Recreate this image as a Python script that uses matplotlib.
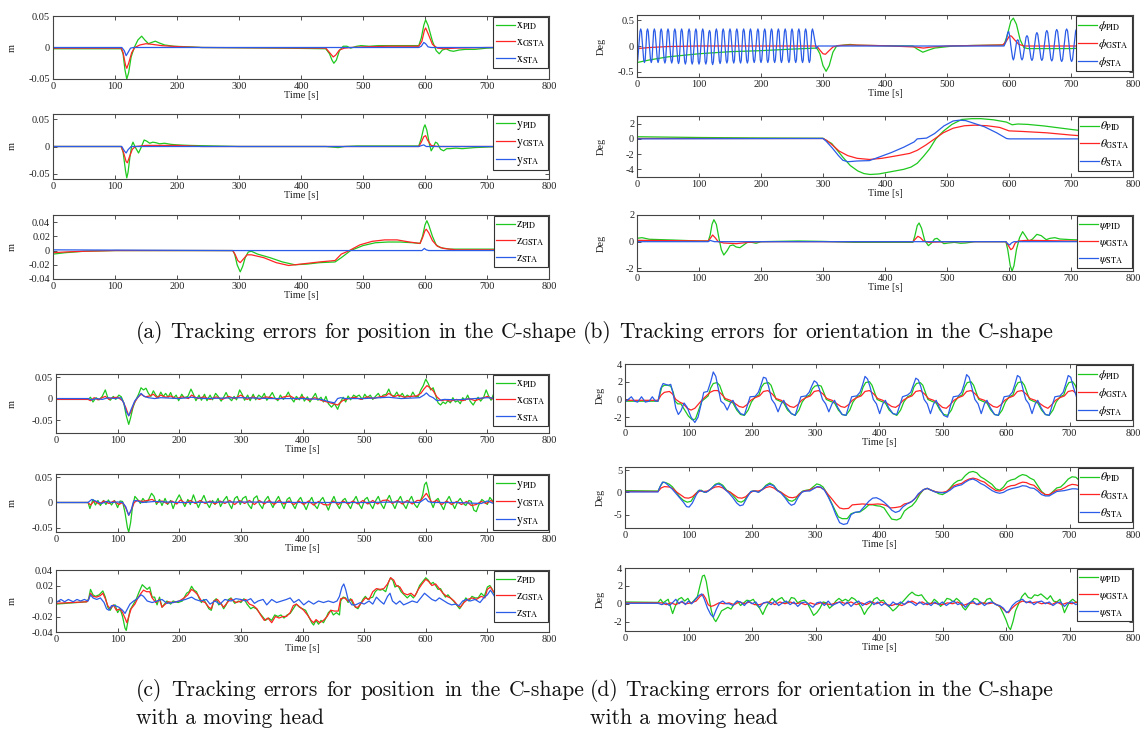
import numpy as np
import matplotlib
matplotlib.use("Agg")
import matplotlib.pyplot as plt

plt.rcParams["font.family"] = ["Liberation Serif", "DejaVu Serif"]
plt.rcParams["mathtext.fontset"] = "stix"
plt.rcParams["axes.unicode_minus"] = False

# ---------------------------------------------------------------------------
# (a) position errors, C-shape  -- (time [s], error [m])
# ---------------------------------------------------------------------------
a_x_pid = [(0,-0.002),(110,-0.002),(113,-0.01),(116,-0.035),(119,-0.05),(122,-0.04),(126,-0.015),(131,0),(137,0.012),(143,0.018),(148,0.012),(154,0.006),(159,0.008),(165,0.01),(172,0.007),(180,0.004),(195,0.002),(220,0.001),(240,0),(370,-0.001),(440,-0.002),(446,-0.01),(450,-0.02),(453,-0.025),(457,-0.02),(462,-0.005),(468,0.002),(474,0.002),(480,-0.001),(490,0.002),(497,0.003),(510,0.002),(525,0.003),(560,0.003),(590,0.003),(594,0.015),(598,0.035),(601,0.044),(605,0.035),(612,0.01),(618,-0.005),(623,-0.01),(628,-0.004),(634,-0.002),(640,-0.005),(646,-0.006),(655,-0.004),(665,-0.003),(680,-0.003),(700,-0.001),(720,0),(800,0)]
a_x_gsta = [(0,-0.001),(110,-0.001),(113,-0.008),(117,-0.028),(119,-0.033),(122,-0.025),(127,-0.008),(132,0),(140,0.004),(150,0.006),(160,0.005),(175,0.003),(190,0.002),(210,0.001),(240,0),(440,-0.001),(446,-0.008),(452,-0.015),(456,-0.012),(462,-0.004),(470,-0.001),(480,0),(500,0.001),(540,0.002),(590,0.002),(595,0.01),(599,0.027),(601,0.031),(605,0.022),(612,0.005),(620,-0.001),(630,-0.002),(650,-0.001),(700,0),(800,0)]
a_x_sta = [(0,0),(111,0),(115,-0.005),(118,-0.013),(121,-0.008),(125,-0.001),(130,0),(590,0),(594,0.002),(598,0.008),(601,0.006),(605,0.001),(610,0),(800,0)]

a_y_pid = [(0,0),(110,0),(113,-0.01),(117,-0.045),(119,-0.058),(121,-0.048),(124,-0.02),(127,0.002),(129,0.008),(133,-0.002),(138,-0.012),(142,-0.002),(147,0.012),(151,0.01),(156,0.006),(161,0.008),(166,0.007),(172,0.005),(180,0.006),(190,0.004),(200,0.003),(220,0.002),(260,0.001),(300,0),(440,0),(460,-0.002),(470,0),(490,0.001),(540,0.001),(590,0.001),(594,0.015),(598,0.035),(600,0.04),(603,0.03),(607,0.005),(610,-0.008),(613,-0.002),(617,0.008),(620,0.006),(625,-0.005),(630,-0.008),(635,-0.004),(640,-0.004),(650,-0.003),(660,-0.004),(680,-0.002),(700,-0.001),(720,0),(800,0)]
a_y_gsta = [(0,0),(110,0),(114,-0.012),(118,-0.028),(120,-0.03),(123,-0.02),(128,-0.005),(133,0),(150,0.002),(200,0.002),(240,0),(590,0),(594,0.008),(598,0.018),(601,0.02),(604,0.012),(610,0.002),(620,0),(800,0)]
a_y_sta = [(0,0),(111,0),(115,-0.008),(118,-0.012),(121,-0.006),(126,0),(590,0),(595,0.002),(598,0.003),(602,0),(800,0)]

a_z_pid = [(0,-0.005),(20,-0.003),(50,-0.001),(100,0),(290,0),(293,-0.005),(297,-0.02),(302,-0.03),(306,-0.022),(310,-0.01),(315,-0.002),(320,-0.001),(330,-0.005),(350,-0.01),(370,-0.016),(390,-0.02),(410,-0.019),(430,-0.017),(455,-0.016),(465,-0.01),(480,0),(500,0.007),(520,0.011),(540,0.012),(560,0.012),(580,0.011),(592,0.01),(596,0.02),(600,0.036),(603,0.042),(606,0.036),(612,0.02),(618,0.008),(625,0.004),(640,0.002),(680,0.002),(720,0.002),(800,0.002)]
a_z_gsta = [(0,-0.003),(20,-0.002),(50,-0.001),(100,0),(290,0),(294,-0.006),(298,-0.014),(302,-0.017),(307,-0.012),(313,-0.006),(320,-0.006),(340,-0.01),(360,-0.017),(380,-0.021),(400,-0.019),(430,-0.016),(455,-0.014),(465,-0.005),(478,0),(495,0.008),(515,0.013),(535,0.015),(555,0.015),(575,0.012),(592,0.01),(596,0.018),(600,0.028),(602,0.03),(606,0.025),(612,0.014),(620,0.006),(630,0.003),(650,0.001),(720,0.001),(800,0.001)]
a_z_sta = [(0,0.001),(290,0),(595,0),(599,0.003),(602,0.001),(606,0),(800,0)]

# ---------------------------------------------------------------------------
# (b) orientation errors, C-shape  -- (time [s], error [deg])
# ---------------------------------------------------------------------------
b_phi_pid = [(0,-0.32),(20,-0.27),(50,-0.21),(100,-0.15),(150,-0.11),(200,-0.09),(250,-0.06),(290,-0.04),(295,-0.15),(300,-0.38),(305,-0.49),(310,-0.38),(316,-0.12),(322,0),(335,0.02),(344,0.03),(355,0.015),(400,0.005),(445,0),(452,-0.06),(461,-0.12),(470,-0.08),(480,-0.04),(495,-0.02),(510,0),(540,0.01),(592,0.02),(597,0.2),(603,0.48),(607,0.54),(612,0.42),(618,0.12),(624,-0.03),(630,-0.05),(700,-0.05),(720,-0.04),(800,0)]
b_phi_gsta = [(0,-0.05),(20,-0.03),(50,-0.01),(100,0),(290,0),(295,-0.08),(300,-0.15),(304,-0.16),(309,-0.1),(316,-0.02),(325,0.01),(345,0.02),(400,0.005),(450,-0.02),(462,-0.04),(475,-0.02),(500,0),(590,0.02),(596,0.1),(601,0.2),(604,0.19),(609,0.12),(616,0.03),(625,0),(800,0)]
b_phi_sta = [
    (0,-0.3),(1.2,-0.27),
    (4.8,0.28),(6,0.33),(7.2,0.28),(10.8,-0.27),(12,-0.32),(13.2,-0.27),
    (15.8,0.28),(17,0.33),(18.2,0.28),(21.8,-0.27),(23,-0.32),(24.2,-0.27),
    (26.8,0.28),(28,0.33),(29.2,0.28),(32.8,-0.27),(34,-0.32),(35.2,-0.27),
    (37.8,0.28),(39,0.33),(40.2,0.28),(43.8,-0.28),(45,-0.33),(46.2,-0.28),
    (48.8,0.28),(50,0.33),(51.2,0.28),(54.8,-0.28),(56,-0.33),(57.2,-0.28),
    (59.8,0.28),(61,0.33),(62.2,0.28),(65.8,-0.29),(67,-0.34),(68.2,-0.29),
    (70.8,0.28),(72,0.33),(73.2,0.28),(76.8,-0.3),(78,-0.35),(79.2,-0.3),
    (82.8,0.28),(84,0.33),(85.2,0.28),(87.8,-0.3),(89,-0.35),(90.2,-0.3),
    (93.8,0.28),(95,0.33),(96.2,0.28),(98.8,-0.3),(100,-0.35),(101.2,-0.3),
    (104.8,0.28),(106,0.33),(107.2,0.28),(109.8,-0.3),(111,-0.35),(112.2,-0.3),
    (115.8,0.26),(117,0.3),(118.2,0.26),(120.8,-0.31),(122,-0.36),(123.2,-0.31),
    (126.8,0.28),(128,0.33),(129.2,0.28),(132.8,-0.29),(134,-0.34),(135.2,-0.29),
    (137.8,0.28),(139,0.33),(140.2,0.28),(143.8,-0.28),(145,-0.33),(146.2,-0.28),
    (148.8,0.28),(150,0.33),(151.2,0.28),(154.8,-0.28),(156,-0.33),(157.2,-0.28),
    (159.8,0.28),(161,0.33),(162.2,0.28),(165.8,-0.28),(167,-0.33),(168.2,-0.28),
    (170.8,0.28),(172,0.33),(173.2,0.28),(176.8,-0.28),(178,-0.33),(179.2,-0.28),
    (181.8,0.28),(183,0.33),(184.2,0.28),(187.8,-0.27),(189,-0.32),(190.2,-0.27),
    (193.8,0.28),(195,0.33),(196.2,0.28),(198.8,-0.27),(200,-0.32),(201.2,-0.27),
    (204.8,0.28),(206,0.33),(207.2,0.28),(209.8,-0.27),(211,-0.32),(212.2,-0.27),
    (215.8,0.28),(217,0.33),(218.2,0.28),(220.8,-0.27),(222,-0.32),(223.2,-0.27),
    (226.8,0.28),(228,0.33),(229.2,0.28),(231.8,-0.27),(233,-0.32),(234.2,-0.27),
    (237.8,0.28),(239,0.33),(240.2,0.28),(243.8,-0.27),(245,-0.32),(246.2,-0.27),
    (248.8,0.28),(250,0.33),(251.2,0.28),(254.8,-0.27),(256,-0.32),(257.2,-0.27),
    (259.8,0.28),(261,0.33),(262.2,0.28),(265.8,-0.27),(267,-0.32),(268.2,-0.27),
    (270.8,0.28),(272,0.33),(273.2,0.28),(276.8,-0.27),(278,-0.32),(279.2,-0.27),
    (281.8,0.28),(283,0.33),(284.2,0.28),(289,-0.05),(292,0),
    (592,0),(595,0.08),(598,0.26),(599.5,0.28),(601,0.2),(603,0.0),
    (605.8,-0.23),(607,-0.27),(608.2,-0.23),(612.5,0.1),(614,0.12),(615.5,0.1),
    (619.5,-0.23),(621,-0.27),(622.5,-0.23),(627.5,0.17),(629,0.2),(630.5,0.17),
    (635.5,-0.24),(637,-0.28),(638.5,-0.24),(643.5,0.22),(645,0.26),(646.5,0.22),
    (651.5,-0.24),(653,-0.28),(654.5,-0.24),(659.5,0.26),(661,0.3),(662.5,0.26),
    (667.5,-0.25),(669,-0.29),(670.5,-0.25),(675.5,0.28),(677,0.32),(678.5,0.28),
    (683.5,-0.26),(685,-0.3),(686.5,-0.26),(691.5,0.29),(693,0.33),(694.5,0.29),
    (699.5,-0.26),(701,-0.3),(702.5,-0.26),(707.5,0.29),(709,0.33),(710.5,0.29),
    (715.5,-0.26),(717,-0.3),(718.5,-0.26),(725,0.33),(733,-0.3),(741,0.33),
    (749,-0.3),(757,0.33),(765,-0.3),(773,0.33),(781,-0.3),(789,0.33),(797,-0.3),(800,-0.2)]

b_theta_pid = [(0,0.28),(100,0.18),(200,0.12),(300,0.08),(305,-0.2),(314,-0.6),(322,-1.4),(332,-2.4),(344,-3.5),(356,-4.2),(366,-4.55),(376,-4.67),(390,-4.6),(410,-4.3),(430,-4.0),(442,-3.7),(452,-3.2),(462,-2.3),(472,-1.3),(482,0),(494,1.0),(508,1.9),(524,2.55),(540,2.65),(555,2.65),(575,2.5),(596,2.2),(605,1.85),(614,1.95),(630,1.9),(656,1.7),(680,1.45),(704,1.2),(720,1.05),(760,0.9),(800,0.7)]
b_theta_gsta = [(0,0.05),(300,0.05),(306,-0.2),(315,-0.8),(326,-1.6),(340,-2.2),(355,-2.55),(375,-2.7),(395,-2.55),(420,-2.2),(440,-1.9),(452,-1.5),(466,-0.8),(480,0),(494,0.8),(510,1.4),(528,1.72),(545,1.8),(565,1.72),(585,1.5),(600,1.05),(620,0.98),(660,0.8),(700,0.5),(720,0.38),(800,0.1)]
b_theta_sta = [(0,0),(300,0.05),(305,-0.3),(315,-1.2),(325,-2.2),(332,-2.8),(340,-3.0),(355,-2.9),(375,-2.85),(390,-2.4),(410,-1.8),(430,-1.1),(447,-0.4),(452,0),(467,0.1),(480,0.7),(495,1.7),(510,2.35),(520,2.45),(530,2.4),(560,1.6),(580,0.8),(596,0.05),(600,0),(800,0)]

b_psi_pid = [(0,0.25),(8,0.3),(20,0.18),(60,0.12),(100,0.05),(115,0.05),(118,0.5),(121,1.3),(124,1.65),(128,1.3),(132,0.3),(136,-0.6),(140,-1.0),(145,-0.7),(150,-0.3),(155,-0.25),(160,-0.4),(166,-0.45),(172,-0.25),(178,-0.05),(185,-0.05),(192,-0.12),(200,0),(260,0.05),(300,0.02),(350,-0.05),(445,-0.05),(448,0.4),(452,1.2),(455,1.4),(459,1.0),(464,0.1),(470,-0.3),(475,-0.1),(480,0.2),(484,0.25),(489,0.05),(495,-0.15),(502,-0.1),(512,-0.05),(522,-0.12),(530,-0.1),(545,0),(595,0),(598,-0.6),(602,-1.8),(605,-2.2),(608,-1.8),(612,-0.6),(617,0.3),(622,0.75),(627,0.4),(632,0.02),(638,0.2),(645,0.55),(652,0.45),(660,0.15),(666,0.25),(674,0.3),(682,0.2),(700,0.15),(720,0.12),(800,0.08)]
b_psi_gsta = [(0,0.1),(115,0.05),(119,0.3),(122,0.5),(126,0.3),(131,0),(140,-0.1),(160,-0.15),(180,-0.05),(200,0),(445,0),(449,0.2),(453,0.4),(457,0.3),(462,0.05),(470,-0.05),(500,0),(595,0),(599,-0.3),(603,-0.6),(606,-0.5),(610,-0.1),(615,0.05),(630,0.1),(700,0.05),(800,0)]
b_psi_sta = [(0,0),(115,0),(118,0.1),(121,0.05),(125,0),(595,0),(598,-0.15),(601,-0.25),(604,-0.1),(608,0),(800,0)]

# ---------------------------------------------------------------------------
# (c) position errors, C-shape with a moving head
# ---------------------------------------------------------------------------
c_x_pid = [(0,-0.002),(52,-0.002),(56,0.003),(60,-0.008),(65,0.002),(70,-0.003),(75,0.005),(80,0.02),(84,0.002),(88,-0.004),(93,0.005),(97,-0.002),(102,0.008),(106,0.004),(110,-0.01),(114,-0.04),(118,-0.06),(121,-0.045),(125,-0.02),(129,-0.005),(134,0.01),(138,0.025),(142,0.02),(146,0.024),(150,0.012),(154,0.005),(158,0.018),(162,0.008),(166,0.002),(170,0.015),(174,0.005),(178,0.012),(182,0.003),(186,0.014),(190,0),(195,0.008),(199,-0.005),(204,0.01),(208,0.002),(214,0.005),(219,0.022),(223,0.01),(227,-0.005),(232,0.008),(236,-0.004),(241,0.01),(245,-0.005),(250,0.008),(254,-0.003),(259,0.012),(263,0.005),(268,-0.006),(272,0.003),(276,0.014),(280,0.002),(285,-0.005),(289,0.005),(293,-0.003),(298,0.02),(302,0.01),(306,-0.004),(311,0.008),(315,-0.005),(320,0.01),(324,-0.003),(329,0.008),(334,0.002),(338,0.012),(342,-0.004),(347,0.005),(351,0.014),(355,0.002),(360,-0.005),(364,0.008),(369,-0.002),(373,0.005),(377,0.015),(381,0.002),(386,-0.008),(390,0.005),(395,-0.003),(399,0.01),(403,-0.006),(408,0.004),(412,-0.008),(417,0.003),(421,0.012),(425,-0.004),(430,0.003),(434,-0.008),(438,0.005),(442,-0.012),(447,-0.02),(452,-0.012),(457,-0.025),(461,-0.01),(466,0.003),(470,-0.008),(474,0.006),(478,-0.003),(483,0.008),(487,0.004),(492,0.008),(497,-0.002),(501,0.01),(505,0.002),(510,0.008),(514,-0.002),(519,0.006),(523,0.012),(527,0.002),(531,0.008),(536,0.01),(540,0.022),(544,0.008),(549,0.006),(553,0.015),(557,0.004),(562,0.012),(566,0.002),(570,0.008),(575,0.003),(579,0.015),(583,0.005),(588,0.005),(592,0.02),(596,0.03),(600,0.045),(604,0.035),(608,0.02),(612,0.025),(616,0.008),(620,-0.01),(624,-0.015),(628,-0.008),(632,-0.012),(636,-0.005),(640,-0.01),(644,0.002),(648,-0.008),(652,-0.005),(656,-0.012),(660,0.002),(664,-0.004),(668,0.008),(672,-0.006),(677,-0.015),(681,-0.005),(685,0.003),(689,-0.006),(694,0.003),(698,0.02),(702,0.006),(706,-0.004),(710,0.01),(715,-0.003),(720,0.005),(724,0),(800,0)]
c_x_gsta = [(0,-0.002),(52,-0.002),(56,-0.005),(62,0.002),(68,-0.003),(75,0.002),(80,0.005),(86,-0.002),(92,0.002),(100,0.003),(108,-0.005),(113,-0.02),(118,-0.04),(122,-0.03),(127,-0.01),(133,0.003),(138,0.01),(145,0.004),(152,0.006),(158,0.01),(164,0.002),(170,0.008),(178,0.003),(186,0.006),(195,0),(205,0.004),(215,0),(220,0.008),(230,0),(240,0.004),(250,-0.002),(260,0.004),(270,-0.002),(280,0.005),(290,0),(300,0.008),(310,-0.002),(320,0.004),(330,-0.002),(340,0.004),(350,0.002),(360,-0.002),(370,0.004),(380,0.006),(390,-0.002),(400,0.004),(410,-0.004),(420,0.002),(430,-0.004),(440,-0.008),(450,-0.012),(457,-0.015),(465,-0.005),(475,0),(485,0.003),(495,-0.002),(505,0.004),(515,0),(525,0.004),(535,0.006),(540,0.012),(548,0.004),(556,0.008),(565,0.003),(575,0.005),(585,0.006),(592,0.012),(597,0.022),(602,0.03),(606,0.026),(612,0.018),(618,0.004),(625,-0.005),(632,-0.003),(640,-0.006),(650,-0.002),(660,-0.005),(670,0),(680,-0.005),(690,0),(700,0.005),(710,-0.002),(720,0.002),(800,0)]
c_x_sta = [(0,0),(52,0),(58,-0.003),(65,0),(75,-0.002),(85,0.002),(95,0),(105,0.002),(110,-0.01),(114,-0.03),(118,-0.04),(122,-0.025),(128,-0.005),(134,0.005),(138,0.012),(143,0.005),(150,0.002),(160,0),(170,0.002),(200,0),(220,0.003),(240,0),(300,0.002),(350,0),(400,0),(430,-0.002),(445,-0.008),(452,-0.01),(457,0),(462,0.002),(470,0),(500,0),(540,0.003),(560,0),(590,0.002),(597,0.008),(601,0.013),(606,0.006),(612,0.002),(618,-0.005),(630,-0.002),(650,-0.003),(680,0),(700,0.002),(720,0),(800,0)]

c_y_pid = [(0,0),(52,0),(55,-0.012),(60,0.006),(64,-0.005),(68,0.004),(72,-0.006),(77,0.004),(81,-0.004),(85,0.005),(90,-0.005),(95,0.004),(100,-0.01),(104,0.003),(108,0.002),(112,-0.02),(116,-0.05),(118,-0.058),(121,-0.04),(124,-0.01),(128,0.012),(133,0.005),(137,-0.002),(141,0.008),(146,0),(150,0.005),(155,0.018),(159,0.012),(163,-0.004),(168,0.006),(172,-0.006),(177,0.008),(181,-0.004),(186,0.004),(190,-0.012),(195,0.004),(200,0.015),(205,0.002),(209,-0.008),(214,0.006),(218,-0.004),(223,0.015),(227,0.002),(231,-0.01),(236,0.004),(240,0.014),(245,-0.002),(249,-0.01),(254,0.004),(258,-0.004),(263,0.008),(267,-0.008),(272,0.004),(277,0.012),(281,-0.003),(285,-0.012),(290,0.008),(294,0.012),(299,-0.004),(303,0.008),(308,0.012),(312,-0.004),(317,-0.012),(321,0.008),(326,0.013),(330,-0.003),(335,-0.012),(339,0.004),(344,0.012),(348,0),(352,-0.01),(357,0.004),(361,0.012),(366,-0.002),(370,-0.012),(375,0.006),(379,0.01),(384,-0.004),(388,-0.012),(393,0.004),(397,0.01),(402,-0.004),(406,-0.014),(411,0.002),(415,0.01),(420,-0.006),(424,-0.012),(429,0.004),(433,0.01),(438,-0.004),(442,-0.015),(447,0.002),(451,0.012),(456,-0.004),(460,-0.012),(465,0.004),(469,0.008),(474,-0.004),(478,-0.012),(483,0.004),(487,0.012),(492,-0.004),(496,-0.012),(501,0.006),(505,0.01),(510,-0.004),(514,-0.012),(519,0.004),(523,0.012),(528,-0.004),(532,-0.012),(537,0.005),(541,0.014),(546,-0.002),(550,-0.012),(555,0.004),(559,0.012),(564,-0.004),(568,-0.012),(573,0.004),(577,0.012),(582,-0.004),(586,-0.01),(591,0.002),(595,0.015),(598,0.035),(601,0.04),(604,0.025),(608,0.002),(612,-0.01),(616,0.004),(620,0.008),(625,-0.005),(629,-0.014),(634,0.004),(638,0.012),(643,-0.002),(647,-0.012),(652,0.002),(656,0.008),(661,-0.002),(665,-0.006),(670,0.004),(674,0.002),(678,-0.015),(682,-0.018),(686,-0.005),(691,0.006),(695,0.002),(700,-0.004),(704,0.01),(708,0.004),(713,-0.008),(717,0.006),(722,0.012),(725,0),(800,0)]
c_y_gsta = [(0,0),(52,0),(56,-0.005),(62,0.003),(70,-0.003),(78,0.003),(86,-0.002),(94,0.003),(102,-0.004),(108,0),(113,-0.01),(118,-0.025),(122,-0.015),(127,0),(132,0.004),(140,0.002),(148,0.004),(156,0.006),(164,0),(172,0.003),(180,-0.002),(188,0.003),(196,-0.003),(202,0.005),(210,-0.002),(218,0.004),(226,-0.002),(234,0.004),(242,-0.002),(250,0.003),(258,-0.003),(266,0.003),(274,-0.002),(282,0.004),(290,-0.004),(298,0.004),(306,-0.002),(314,0.004),(322,-0.004),(330,0.004),(338,-0.003),(346,0.004),(354,-0.004),(362,0.004),(370,-0.003),(378,0.003),(386,-0.004),(394,0.003),(402,-0.004),(410,0.003),(418,-0.005),(426,0.002),(434,-0.004),(442,-0.005),(450,0.003),(458,-0.004),(466,0.003),(474,-0.003),(482,0.003),(490,-0.003),(498,0.004),(506,-0.003),(514,0.004),(522,-0.003),(530,0.004),(538,0.005),(546,-0.002),(554,0.004),(562,-0.003),(570,0.004),(578,-0.003),(586,0.004),(592,0.004),(597,0.012),(601,0.018),(605,0.01),(610,0),(618,0.004),(626,-0.004),(634,0.003),(642,-0.004),(650,0.002),(658,-0.004),(666,0.002),(674,-0.006),(682,-0.004),(690,0.002),(698,-0.002),(706,0.004),(714,-0.004),(722,0.006),(800,0)]
c_y_sta = [(0,0),(52,0),(58,0.006),(66,0.002),(74,-0.002),(82,0.002),(90,0),(100,0.001),(108,0),(113,-0.008),(118,-0.025),(122,-0.015),(126,0.003),(130,0.004),(140,0),(160,0.002),(200,0),(300,0.001),(400,0),(500,0),(560,0.001),(590,0),(596,0.005),(600,0.008),(604,0.002),(610,0),(650,0),(690,-0.002),(700,0.003),(710,-0.002),(720,0.001),(800,0)]

c_z_pid = [(0,-0.004),(50,-0.001),(53,0.003),(56,0.015),(60,0.008),(64,0.006),(70,0.008),(76,0.013),(80,0.005),(84,-0.008),(88,-0.012),(92,-0.006),(96,-0.005),(100,-0.015),(104,-0.01),(108,-0.02),(112,-0.035),(114,-0.038),(117,-0.025),(120,-0.012),(125,-0.005),(130,0.002),(135,0.012),(140,0.021),(144,0.018),(148,0.015),(152,0.018),(156,0.005),(160,0.005),(164,-0.005),(168,0.005),(172,-0.008),(176,-0.004),(180,0),(186,-0.004),(190,0),(198,-0.002),(205,0),(212,0.01),(216,0.012),(220,0.019),(224,0.014),(228,0.012),(232,0.004),(236,-0.002),(240,0.002),(244,-0.004),(248,-0.01),(252,-0.012),(256,0),(260,0.003),(264,-0.005),(268,-0.003),(272,-0.01),(276,-0.005),(280,0.002),(284,0.004),(290,-0.003),(296,0),(300,-0.002),(305,0.003),(310,-0.004),(316,-0.01),(320,-0.008),(325,-0.01),(330,-0.015),(335,-0.02),(340,-0.025),(345,-0.022),(350,-0.025),(355,-0.018),(360,-0.02),(365,-0.018),(370,-0.022),(375,-0.018),(380,-0.016),(385,-0.01),(390,-0.004),(395,-0.008),(400,-0.01),(405,-0.012),(410,-0.02),(415,-0.028),(418,-0.031),(422,-0.025),(426,-0.03),(430,-0.025),(434,-0.028),(438,-0.022),(442,-0.015),(446,-0.012),(450,-0.018),(455,-0.015),(460,-0.018),(462,0),(466,0.005),(470,0.004),(474,-0.002),(478,0.003),(482,-0.004),(486,-0.008),(490,-0.01),(494,-0.004),(498,0.002),(502,0.006),(506,0.002),(510,0.004),(514,0.005),(518,0.012),(522,0.015),(526,0.014),(530,0.015),(535,0.012),(540,0.025),(543,0.03),(547,0.026),(550,0.018),(555,0.02),(560,0.012),(565,0.008),(570,0.004),(575,0.008),(580,0.004),(585,0.01),(590,0.02),(595,0.025),(600,0.03),(604,0.027),(608,0.022),(612,0.024),(616,0.02),(620,0.015),(624,0.016),(628,0.01),(632,0.005),(636,0.008),(640,0.004),(645,0),(650,-0.005),(655,-0.01),(660,-0.004),(665,0.004),(670,0),(675,0.006),(680,0.004),(685,0.004),(690,0.01),(695,0.006),(700,0.018),(704,0.02),(708,0.015),(712,0.008),(716,0.012),(720,0.004),(723,-0.005),(800,0)]
c_z_gsta = [(0,-0.003),(50,-0.001),(53,0.002),(56,0.01),(60,0.006),(66,0.005),(72,0.007),(76,0.01),(80,0.003),(84,-0.006),(88,-0.01),(93,-0.005),(98,-0.012),(104,-0.01),(108,-0.015),(112,-0.022),(115,-0.028),(118,-0.02),(122,-0.01),(128,-0.004),(133,0.004),(138,0.01),(142,0.014),(147,0.012),(152,0.012),(156,0.004),(162,-0.002),(168,0.002),(172,-0.008),(176,-0.005),(182,-0.001),(190,-0.002),(200,0),(208,0.004),(214,0.008),(220,0.015),(225,0.012),(230,0.008),(236,0),(242,-0.002),(248,-0.008),(252,-0.01),(256,0),(262,0.002),(268,-0.004),(272,-0.008),(278,-0.002),(284,0.003),(292,-0.002),(300,0),(308,0.002),(314,-0.004),(320,-0.006),(326,-0.01),(332,-0.018),(338,-0.025),(344,-0.022),(350,-0.028),(356,-0.02),(362,-0.022),(368,-0.02),(374,-0.02),(380,-0.015),(385,-0.006),(390,-0.004),(396,-0.008),(402,-0.012),(408,-0.018),(414,-0.025),(418,-0.028),(422,-0.024),(428,-0.028),(434,-0.025),(440,-0.02),(446,-0.012),(452,-0.013),(458,-0.013),(462,0.003),(468,0.004),(474,0),(480,0.002),(486,-0.008),(490,-0.008),(496,-0.002),(502,0.004),(508,0.002),(514,0.012),(520,0.016),(526,0.015),(532,0.016),(538,0.022),(543,0.03),(548,0.027),(552,0.02),(558,0.018),(564,0.01),(570,0.008),(576,0.01),(582,0.006),(588,0.015),(594,0.022),(600,0.028),(605,0.025),(610,0.02),(616,0.022),(622,0.016),(628,0.01),(634,0.006),(640,0.004),(646,0),(652,-0.006),(656,-0.008),(662,-0.002),(668,0.002),(675,0.004),(682,0.002),(690,0.006),(696,0.004),(700,0.015),(705,0.018),(710,0.012),(716,0.008),(720,0.002),(723,-0.004),(800,0)]
c_z_sta = [(0,-0.002),(8,0.002),(14,-0.001),(20,0.002),(28,-0.001),(34,0.002),(40,0),(46,0.002),(52,0),(56,0.008),(60,0.004),(66,0.002),(72,0.004),(78,-0.002),(82,-0.01),(86,-0.012),(90,-0.006),(96,-0.006),(102,-0.008),(108,-0.012),(112,-0.016),(116,-0.01),(120,-0.004),(126,0),(132,0.003),(138,0.008),(142,0.006),(148,0),(156,-0.002),(164,0),(172,0.002),(180,-0.003),(190,-0.002),(200,0),(210,0.002),(220,0.005),(226,0.002),(234,0),(244,0.002),(250,-0.004),(258,0),(266,-0.004),(274,0.002),(284,0),(292,0.003),(300,0.002),(308,0),(316,0.003),(322,-0.003),(328,0),(336,0.002),(342,-0.005),(350,0.002),(358,-0.002),(366,0),(374,0.002),(380,0.004),(386,-0.002),(394,0.002),(402,-0.005),(410,0),(418,-0.004),(426,0),(434,-0.002),(442,0),(450,-0.002),(456,0),(460,0.006),(464,0.018),(467,0.022),(470,0.015),(474,0.002),(480,-0.005),(486,-0.005),(494,-0.002),(500,-0.004),(508,0),(514,-0.004),(520,0.005),(526,0),(532,-0.004),(538,0.006),(542,0.01),(546,0),(552,-0.004),(558,0),(564,-0.005),(570,-0.003),(578,0),(586,-0.002),(592,0.004),(598,0.01),(604,0.006),(610,0.002),(616,0),(622,0.004),(630,0),(636,-0.003),(642,-0.005),(648,-0.004),(654,-0.006),(660,0),(666,0.002),(672,0),(680,0.002),(688,-0.002),(694,0.004),(700,0.008),(705,0.014),(710,0.008),(716,0),(722,-0.008),(725,-0.01),(800,0)]

# ---------------------------------------------------------------------------
# (d) orientation errors, C-shape with a moving head
# ---------------------------------------------------------------------------
d_phi_pid = [(0,-0.2),(52,-0.2),(55,0.6),(58,1.4),(62,1.6),(67,1.6),(72,1.5),(76,0.8),(79,-0.2),(83,-0.5),(88,-0.5),(94,-1.2),(100,-1.9),(106,-2.3),(111,-2.2),(116,-1.2),(121,-0.2),(126,0.1),(131,0.4),(135,1.3),(139,1.8),(145,1.9),(149,1.6),(153,0.8),(157,0),(163,-0.2),(170,-0.4),(176,-1.2),(182,-1.7),(188,-1.8),(194,-1.2),(199,-0.3),(205,0.3),(211,0.5),(215,1.4),(219,1.8),(226,1.9),(230,1.6),(234,0.8),(238,0),(244,-0.2),(250,-0.4),(256,-1.2),(262,-1.6),(268,-1.8),(274,-1.2),(279,-0.3),(285,0.3),(291,0.5),(295,1.2),(299,1.5),(305,1.6),(309,1.5),(313,0.8),(317,0),(323,-0.2),(330,-0.4),(336,-1.2),(342,-1.7),(348,-1.8),(354,-1.2),(359,-0.3),(365,0.3),(371,0.5),(375,1.4),(379,1.9),(385,2.0),(389,1.6),(393,0.8),(397,0),(403,-0.2),(410,-0.4),(416,-1.2),(422,-1.6),(428,-1.8),(434,-1.2),(439,-0.3),(445,0.3),(451,0.5),(455,1.4),(459,1.8),(465,1.9),(469,1.6),(473,0.8),(477,0),(483,-0.2),(490,-0.4),(496,-1.2),(502,-1.7),(508,-1.8),(514,-1.2),(519,-0.3),(525,0.3),(531,0.5),(535,1.4),(539,1.9),(545,2.0),(549,1.6),(553,0.8),(557,0),(563,-0.2),(570,-0.4),(576,-1.2),(582,-1.7),(588,-1.8),(594,-1.2),(599,-0.3),(605,0.3),(611,0.5),(615,1.4),(619,1.9),(625,2.0),(629,1.6),(633,0.8),(637,0),(643,-0.2),(650,-0.4),(656,-1.2),(662,-1.7),(668,-1.8),(674,-1.2),(679,-0.3),(685,0.3),(691,0.5),(695,1.4),(699,1.9),(705,2.0),(709,1.6),(713,0.8),(717,0.2),(722,0),(800,0)]
d_phi_gsta = [(0,-0.1),(52,-0.1),(57,0.5),(62,0.8),(70,0.9),(75,0.6),(80,0),(86,-0.3),(92,-0.5),(98,-1.0),(104,-1.2),(110,-1.0),(116,-0.5),(122,0),(128,0.4),(134,0.8),(140,1.0),(146,1.0),(152,0.6),(158,0.1),(166,-0.1),(172,-0.4),(180,-0.8),(186,-0.9),(192,-0.6),(198,-0.1),(205,0.2),(212,0.4),(218,0.9),(225,1.0),(232,0.6),(238,0.1),(246,-0.1),(252,-0.4),(260,-0.8),(266,-0.9),(272,-0.6),(278,-0.1),(285,0.2),(292,0.4),(298,0.9),(305,1.0),(312,0.6),(318,0.1),(326,-0.1),(332,-0.4),(340,-0.8),(346,-0.9),(352,-0.6),(358,-0.1),(365,0.2),(372,0.4),(378,0.9),(385,1.0),(392,0.6),(398,0.1),(406,-0.1),(412,-0.4),(420,-0.8),(426,-0.9),(432,-0.6),(438,-0.1),(445,0.2),(452,0.4),(458,0.9),(465,1.0),(472,0.6),(478,0.1),(486,-0.1),(492,-0.4),(500,-0.9),(506,-1.0),(512,-0.6),(518,-0.1),(525,0.2),(532,0.4),(538,0.9),(545,1.0),(552,0.6),(558,0.1),(566,-0.1),(572,-0.4),(580,-0.8),(586,-0.9),(592,-0.6),(598,-0.1),(605,0.2),(612,0.4),(618,0.9),(625,1.0),(632,0.6),(638,0.1),(646,-0.1),(652,-0.4),(660,-0.8),(666,-1.0),(672,-0.6),(678,-0.1),(685,0.2),(692,0.4),(698,0.9),(705,1.0),(712,0.6),(718,0.1),(722,0),(800,0)]
d_phi_sta = [(0,-0.3),(5,0),(10,0.3),(15,-0.2),(20,-0.3),(26,0.3),(32,-0.3),(38,-0.2),(43,0.3),(48,-0.2),(52,-0.2),(56,1.2),(60,1.8),(64,1.7),(68,1.6),(72,1.7),(76,0.6),(80,-1.0),(84,-1.7),(88,-1.3),(93,-0.4),(98,-0.9),(104,-2.0),(110,-2.6),(115,-2.0),(120,-0.5),(124,0.8),(130,0.9),(135,2.0),(139,3.1),(143,2.6),(147,1.2),(151,-0.2),(156,-0.5),(161,-1.2),(166,-0.4),(170,-0.1),(175,-0.9),(182,-1.6),(188,-1.75),(193,-0.6),(197,0.3),(205,0.35),(210,0.8),(214,1.6),(218,2.5),(222,2.4),(226,1.5),(231,0),(236,-0.5),(241,-1.4),(246,-0.5),(250,-0.1),(255,-0.9),(262,-1.6),(268,-1.8),(273,-0.6),(277,0.3),(285,0.4),(290,0.8),(294,1.5),(298,2.1),(302,1.9),(306,1.2),(311,0),(316,-0.5),(321,-1.4),(326,-0.5),(330,-0.1),(335,-0.9),(342,-1.7),(348,-1.8),(353,-0.6),(357,0.3),(365,0.4),(370,0.8),(374,1.6),(378,2.6),(382,2.3),(386,1.4),(391,0),(396,-0.5),(401,-1.6),(406,-0.5),(410,-0.1),(415,-0.9),(422,-1.6),(428,-1.7),(433,-0.6),(437,0.3),(445,0.5),(450,0.8),(454,1.6),(458,2.4),(462,2.2),(466,1.4),(471,0),(476,-0.5),(481,-1.6),(486,-0.5),(490,-0.1),(495,-0.9),(502,-1.8),(508,-2.0),(513,-0.6),(517,0.3),(525,0.4),(530,0.8),(534,1.7),(538,2.8),(542,2.5),(546,1.4),(551,0),(556,-0.5),(561,-1.6),(566,-0.5),(570,-0.1),(575,-0.9),(582,-1.7),(588,-1.8),(593,-0.6),(597,0.3),(605,0.4),(610,0.8),(614,1.7),(618,2.7),(622,2.5),(626,1.4),(631,0),(636,-0.5),(641,-1.6),(646,-0.5),(650,-0.1),(655,-0.9),(662,-1.7),(668,-1.8),(673,-0.6),(677,0.3),(685,0.4),(690,0.8),(694,1.7),(698,2.7),(702,2.5),(706,1.4),(711,0.3),(716,-0.3),(721,-0.2),(800,0)]

d_theta_pid = [(0,0.4),(52,0.3),(56,1.5),(60,2.3),(64,2.2),(70,1.8),(75,1.2),(80,0.2),(86,-1.0),(92,-1.8),(98,-2.2),(104,-2.0),(110,-0.6),(115,0.3),(120,0.5),(125,0),(131,0.3),(137,1.0),(142,1.8),(148,2.1),(154,1.6),(160,0.5),(166,0),(172,-1.0),(178,-2.0),(183,-2.2),(188,-1.8),(194,-0.5),(200,0.3),(206,0.3),(211,0.1),(217,0.8),(222,1.6),(228,2.1),(234,1.6),(240,0.5),(246,0),(252,-1.0),(258,-1.8),(263,-2.0),(268,-1.6),(274,-0.4),(280,0.3),(286,0.5),(291,0.6),(296,1.2),(302,1.9),(307,1.7),(312,1.2),(318,-0.2),(324,-2.0),(330,-3.8),(336,-5.5),(342,-5.9),(350,-5.9),(356,-4.8),(362,-4.5),(370,-4.4),(378,-3.6),(384,-2.8),(390,-2.8),(396,-3.0),(402,-3.1),(408,-3.5),(414,-4.8),(420,-6.0),(428,-6.2),(434,-5.8),(440,-4.2),(446,-3.5),(452,-3.0),(458,-2.0),(464,-0.5),(470,0.6),(476,0.9),(482,0.5),(488,0.2),(494,-0.3),(500,-0.5),(506,0),(512,1.0),(518,2.0),(524,2.6),(530,2.8),(536,3.8),(542,4.5),(548,4.7),(554,4.4),(560,3.5),(566,3.0),(572,2.4),(578,1.8),(584,0.8),(590,0.5),(596,1.2),(602,2.4),(608,2.8),(614,3.0),(620,3.6),(626,4.0),(632,3.8),(638,3.2),(644,2.8),(650,1.5),(656,0.2),(662,-0.5),(668,-0.6),(674,0.2),(680,1.0),(686,1.2),(692,2.0),(698,3.0),(704,3.5),(710,3.4),(716,2.6),(722,2.0),(800,1.5)]
d_theta_gsta = [(0,0.2),(52,0.2),(57,1.0),(62,1.3),(70,1.2),(76,0.8),(82,0),(88,-0.6),(94,-1.2),(100,-1.3),(106,-1.0),(112,-0.2),(118,0.3),(124,0.2),(130,0.3),(136,0.8),(142,1.2),(148,1.3),(154,1.0),(160,0.4),(166,0),(172,-0.6),(178,-1.2),(184,-1.3),(190,-1.0),(196,-0.2),(202,0.3),(210,0.3),(216,0.6),(222,1.1),(228,1.3),(234,1.0),(240,0.4),(246,0),(252,-0.6),(258,-1.1),(264,-1.2),(270,-1.0),(276,-0.2),(282,0.3),(290,0.5),(296,0.9),(302,1.2),(308,1.1),(314,0.6),(320,-0.5),(326,-1.5),(332,-2.6),(338,-3.5),(344,-3.7),(352,-3.6),(358,-2.8),(366,-2.7),(374,-2.6),(382,-2.7),(390,-2.7),(398,-2.6),(406,-2.7),(412,-3.0),(418,-3.5),(426,-3.4),(434,-3.2),(440,-2.6),(446,-2.4),(452,-2.0),(458,-1.2),(464,-0.2),(470,0.6),(476,0.9),(482,0.5),(488,0.2),(494,0),(500,0),(506,0.2),(512,0.8),(518,1.5),(524,1.8),(530,2.0),(536,2.6),(542,3.0),(548,3.2),(554,3.0),(560,2.6),(566,2.3),(572,1.6),(578,1.0),(584,0.4),(590,0.3),(596,0.6),(602,1.2),(608,1.5),(614,1.6),(620,2.0),(626,2.3),(632,2.2),(638,1.8),(644,1.6),(650,0.8),(656,0),(662,-0.5),(668,-0.5),(674,0),(680,0.5),(686,0.6),(692,1.0),(698,1.5),(704,1.8),(710,1.7),(716,1.4),(722,1.2),(800,0.8)]
d_theta_sta = [(0,0.1),(52,0.1),(55,1.2),(59,2.3),(63,2.2),(68,1.6),(74,0.8),(80,-0.2),(86,-1.2),(92,-2.2),(97,-3.2),(101,-3.3),(106,-2.4),(112,-0.6),(117,0.5),(122,0.2),(128,0),(134,0.6),(140,1.4),(146,1.9),(152,1.6),(158,0.6),(164,-0.2),(170,-1.2),(176,-2.4),(181,-3.0),(186,-2.8),(192,-1.2),(198,0.2),(204,0.3),(210,0),(216,0.6),(222,1.4),(228,1.8),(234,1.5),(240,0.4),(246,-0.2),(252,-1.2),(258,-2.4),(262,-2.9),(267,-2.6),(273,-1.0),(279,0.1),(285,0.3),(291,0.3),(297,0.8),(303,1.3),(308,1.2),(314,0.5),(320,-1.0),(326,-2.8),(332,-5.0),(338,-6.8),(344,-7.2),(350,-7.0),(356,-5.0),(362,-4.5),(370,-4.3),(378,-3.0),(384,-2.0),(390,-1.3),(396,-1.2),(402,-1.6),(408,-2.2),(414,-3.0),(420,-4.0),(426,-4.5),(432,-4.2),(438,-3.2),(444,-2.6),(450,-2.2),(456,-1.5),(462,-0.3),(470,0.6),(476,0.9),(482,0.5),(488,0.1),(494,0),(500,-0.1),(506,0),(512,0.5),(518,1.2),(524,1.5),(530,1.7),(536,2.3),(542,2.8),(548,3.0),(554,2.6),(560,2.0),(566,1.6),(572,1.0),(578,0.4),(584,0),(590,-0.2),(596,0),(602,0.5),(608,0.8),(614,1.0),(620,1.2),(626,1.5),(632,1.4),(638,1.0),(644,0.9),(650,0.3),(656,-0.5),(662,-0.8),(668,-0.8),(674,-0.3),(680,0.2),(686,0.3),(692,0.4),(698,0.6),(704,0.8),(710,0.8),(716,0.6),(722,0.4),(800,0.3)]

d_psi_pid = [(0,0.2),(52,0.15),(56,0.5),(60,0.1),(64,0.3),(68,0.5),(72,-0.4),(75,-1.1),(79,-0.3),(84,0.5),(89,0.7),(94,0.3),(99,0.6),(104,0),(109,0.4),(114,0.8),(118,2.0),(122,3.1),(125,3.2),(128,2.5),(132,0.8),(136,-0.8),(140,-1.7),(143,-2.0),(147,-1.5),(152,-0.8),(157,-0.6),(162,-0.4),(167,-0.6),(172,0),(177,0.3),(182,-0.2),(187,0.1),(192,0.4),(197,0.3),(202,0.5),(207,-0.1),(212,-0.5),(217,-1.2),(222,-0.4),(227,0.2),(232,0.6),(237,0.2),(242,0.5),(247,0.7),(252,0.2),(257,0.1),(262,0.7),(267,0.6),(272,0.1),(277,0.3),(282,0.4),(287,0.1),(292,-0.6),(297,-1.3),(302,-1.0),(307,-0.5),(312,0.2),(317,0.1),(322,-0.5),(327,-0.2),(332,0.3),(337,0.6),(342,0.3),(347,0.5),(352,0.3),(357,0.7),(362,0.5),(367,0.1),(372,-0.4),(377,-1.2),(382,-0.6),(387,-0.2),(392,0.5),(397,0.7),(402,0.3),(407,0.4),(412,-0.1),(417,-0.4),(422,-0.8),(427,-0.5),(432,-0.1),(437,0.2),(442,0.6),(447,1.0),(452,1.3),(457,1.0),(462,0.9),(467,1.0),(472,0.5),(477,0.1),(482,0),(487,0.5),(492,0.2),(497,-0.3),(502,0.1),(507,0.6),(512,0.5),(517,0.2),(522,0.6),(527,0.3),(532,-0.4),(536,-0.7),(540,-0.3),(545,0.2),(550,0.6),(555,0.5),(560,0.1),(565,0),(570,0.5),(575,0.6),(580,0.1),(585,-0.1),(590,-0.3),(595,-1.0),(600,-1.8),(604,-2.6),(607,-2.9),(611,-2.0),(615,-0.8),(620,0),(625,0.8),(630,1.2),(635,0.7),(640,0.6),(645,1.0),(650,0.9),(655,1.1),(660,0.8),(665,0.5),(670,0.9),(675,0.3),(680,0.2),(685,0.5),(689,-0.3),(692,-1.0),(696,-0.4),(700,0.2),(705,0.5),(710,0.2),(715,0),(720,0.3),(800,0.1)]
d_psi_gsta = [(0,0.1),(52,0.1),(58,0.1),(65,-0.1),(72,0.1),(80,-0.1),(88,0.2),(96,0),(104,0.1),(112,0.3),(118,0.8),(123,1.05),(127,0.6),(131,-0.1),(135,-0.3),(140,-0.2),(148,0.1),(156,0),(164,0.1),(172,-0.1),(180,0.2),(188,0),(196,0.2),(204,-0.1),(212,-0.1),(220,0.1),(228,0.2),(236,-0.1),(244,0.2),(252,0),(260,0.2),(268,0),(276,0.1),(284,-0.1),(292,0.1),(300,-0.1),(308,0.1),(316,0),(324,-0.1),(332,0.1),(340,0.2),(348,0),(356,0.2),(364,-0.1),(372,0.1),(380,-0.1),(388,0.2),(396,0),(404,0.2),(412,-0.1),(420,-0.2),(428,0),(436,-0.2),(444,0.1),(452,0.3),(460,0),(468,0.2),(476,-0.1),(484,0.1),(492,0),(500,-0.1),(508,0.1),(516,0),(524,0.2),(532,-0.2),(540,0),(548,0.1),(556,-0.1),(564,0.1),(572,0),(580,0.1),(588,-0.2),(594,-0.5),(600,-0.9),(604,-1.0),(608,-0.6),(614,-0.2),(620,0.1),(626,0.3),(632,0.2),(640,0.1),(648,0.2),(656,0),(664,0.1),(672,-0.1),(680,0.2),(688,-0.1),(696,0.1),(704,0),(712,0.2),(720,-0.1),(800,0)]
d_psi_sta = [(0,0.05),(52,0.05),(58,-0.1),(64,0.1),(70,-0.2),(76,0.2),(80,0.5),(85,0),(90,0.3),(95,-0.1),(100,0.3),(105,0),(110,0.4),(116,0.9),(121,1.1),(125,0.5),(130,-0.5),(135,-1.2),(139,-1.5),(144,-0.6),(149,0.1),(154,0.3),(159,0),(164,0),(170,-0.2),(176,0.3),(182,0.2),(188,-0.2),(194,0.3),(200,0),(206,0.2),(212,-0.4),(218,0.1),(224,0.2),(230,-0.1),(236,0.3),(242,-0.2),(248,0.1),(254,0.3),(260,-0.1),(266,0.2),(272,-0.3),(278,0.1),(284,0.2),(290,-0.1),(296,-0.4),(302,0.1),(308,0.2),(314,-0.2),(320,0.3),(326,-0.2),(332,0),(338,0.2),(344,-0.2),(350,0.2),(356,-0.3),(362,0.1),(368,0.3),(374,-0.2),(380,0.1),(386,0.3),(392,-0.1),(398,0.2),(404,-0.2),(410,0.1),(416,-0.3),(422,0.2),(428,-0.1),(434,0.2),(440,-0.1),(446,0.3),(452,0.1),(458,-0.2),(464,0.2),(470,-0.1),(476,0.1),(482,-0.2),(488,0.2),(494,-0.1),(500,0.2),(506,-0.2),(512,0.1),(518,0.3),(524,-0.1),(530,0.1),(536,-0.4),(542,0.1),(548,0.3),(554,-0.1),(560,0.2),(566,-0.2),(572,0.1),(578,0.2),(584,-0.1),(590,-0.2),(596,-0.5),(601,-1.0),(605,-0.8),(610,-0.2),(616,0.2),(622,0.4),(626,0.5),(632,0.1),(638,0.3),(644,-0.1),(650,0.2),(656,0.3),(662,0),(668,0.2),(674,-0.2),(680,0.1),(686,0.2),(692,-0.3),(698,0.1),(704,0.2),(710,-0.1),(716,0.1),(722,0),(800,0)]

# tick labels, series names, captions
x_ticks = [0, 100, 200, 300, 400, 500, 600, 700, 800]
controllers = ["PID", "GSTA", "STA"]
colors = ["#1ec81e", "#ff2424", "#2b5ce8"]

captions = [
    "(a) Tracking errors for position in the C-shape",
    "(b) Tracking errors for orientation in the C-shape",
    "(c) Tracking errors for position in the C-shape",
    "(d) Tracking errors for orientation in the C-shape",
]
caption_tail = "with a moving head"

W, H = 1143, 729
fig = plt.figure(figsize=(W / 100, H / 100), dpi=100)


def box(x0, x1, y0, y1):
    return [x0 / W, 1 - y1 / H, (x1 - x0) / W, (y1 - y0) / H]


def panel(frame, series, ylim, yticks, ytlabels, ylabel, sym, greek, ylab_x):
    ax = fig.add_axes(box(*frame))
    for pts, col, name in zip(series, colors, controllers):
        t, v = np.asarray(pts, dtype=float).T
        if greek:
            lab = r"$\%s_{\mathrm{%s}}$" % (sym, name)
        else:
            lab = r"$\mathrm{%s}_{\mathrm{%s}}$" % (sym, name)
        ax.plot(t, v, color=col, lw=0.9, label=lab)
    ax.set_xlim(0, 800)
    ax.set_ylim(*ylim)
    ax.set_xticks(x_ticks)
    ax.set_xticklabels([str(v) for v in x_ticks])
    ax.set_yticks(yticks)
    ax.set_yticklabels(ytlabels)
    ax.tick_params(direction="in", length=3, width=0.6, top=True, right=True,
                   labelsize=7.5, pad=2, colors="#333333", labelcolor="#222222")
    for s in ax.spines.values():
        s.set_color("#444444")
        s.set_linewidth(0.8)
    ax.set_xlabel("Time [s]", fontsize=7.5, labelpad=0, color="#222222")
    yc = 1 - (frame[2] + frame[3]) / 2 / H
    fig.text(ylab_x / W, yc, ylabel, rotation=90, fontsize=7.5,
             ha="center", va="center", color="#222222")
    leg = ax.legend(loc="upper right", fontsize=8.5, frameon=True,
                    fancybox=False, edgecolor="#333333", framealpha=1,
                    borderpad=0.2, labelspacing=0.35, handlelength=1.6,
                    handletextpad=0.1, borderaxespad=0.12)
    leg.get_frame().set_linewidth(0.8)
    return ax


# (a)
panel((53, 549, 16, 79), [a_x_pid, a_x_gsta, a_x_sta], (-0.05, 0.05),
      [-0.05, 0, 0.05], ["-0.05", "0", "0.05"], "m", "x", False, 12)
panel((53, 549, 114, 179), [a_y_pid, a_y_gsta, a_y_sta], (-0.06, 0.06),
      [-0.05, 0, 0.05], ["-0.05", "0", "0.05"], "m", "y", False, 12)
panel((53, 549, 215, 279), [a_z_pid, a_z_gsta, a_z_sta], (-0.04, 0.05),
      [-0.04, -0.02, 0, 0.02, 0.04], ["-0.04", "-0.02", "0", "0.02", "0.04"],
      "m", "z", False, 12)
# (b)
panel((637, 1133, 15, 77), [b_phi_pid, b_phi_gsta, b_phi_sta], (-0.6, 0.6),
      [-0.5, 0, 0.5], ["-0.5", "0", "0.5"], "Deg", "phi", True, 601)
panel((637, 1133, 116, 177), [b_theta_pid, b_theta_gsta, b_theta_sta], (-5, 3),
      [-4, -2, 0, 2], ["-4", "-2", "0", "2"], "Deg", "theta", True, 601)
panel((637, 1133, 215, 271), [b_psi_pid, b_psi_gsta, b_psi_sta], (-2.2, 2),
      [-2, 0, 2], ["-2", "0", "2"], "Deg", "psi", True, 601)
# (c)
panel((56, 549, 374, 433), [c_x_pid, c_x_gsta, c_x_sta], (-0.08, 0.057),
      [-0.05, 0, 0.05], ["-0.05", "0", "0.05"], "m", "x", False, 12)
panel((56, 549, 474, 532), [c_y_pid, c_y_gsta, c_y_sta], (-0.058, 0.056),
      [-0.05, 0, 0.05], ["-0.05", "0", "0.05"], "m", "y", False, 12)
panel((56, 549, 570, 632), [c_z_pid, c_z_gsta, c_z_sta], (-0.04, 0.04),
      [-0.04, -0.02, 0, 0.02, 0.04], ["-0.04", "-0.02", "0", "0.02", "0.04"],
      "m", "z", False, 12)
# (d)
panel((625, 1133, 364, 426), [d_phi_pid, d_phi_gsta, d_phi_sta], (-3, 4),
      [-2, 0, 2, 4], ["-2", "0", "2", "4"], "Deg", "phi", True, 600)
panel((625, 1133, 467, 528), [d_theta_pid, d_theta_gsta, d_theta_sta], (-8, 5.7),
      [-5, 0, 5], ["-5", "0", "5"], "Deg", "theta", True, 600)
panel((625, 1133, 568, 631), [d_psi_pid, d_psi_gsta, d_psi_sta], (-3.05, 4),
      [-2, 0, 2, 4], ["-2", "0", "2", "4"], "Deg", "psi", True, 600)

# captions: first lines are spread word by word across their column
cap_kw = dict(family="cmr10", fontsize=15.5, va="center", ha="left", color="#111111")
renderer = fig.canvas.get_renderer()


def justified(x0, x1, y, line):
    words = line.split(" ")
    items = [fig.text(0, 1 - y / H, w, **cap_kw) for w in words]
    widths = [it.get_window_extent(renderer).width for it in items]
    gap = (x1 - x0 - sum(widths)) / (len(words) - 1)
    x = x0
    for it, w in zip(items, widths):
        it.set_x(x / W)
        x += w + gap


justified(136, 577, 332, captions[0])
justified(583, 1054, 332, captions[1])
justified(136, 585, 690, captions[2])
justified(590, 1054, 690, captions[3])
fig.text(136 / W, 1 - 718 / H, caption_tail, **cap_kw)
fig.text(590 / W, 1 - 718 / H, caption_tail, **cap_kw)

fig.savefig("out.png", dpi=100, facecolor="white")
